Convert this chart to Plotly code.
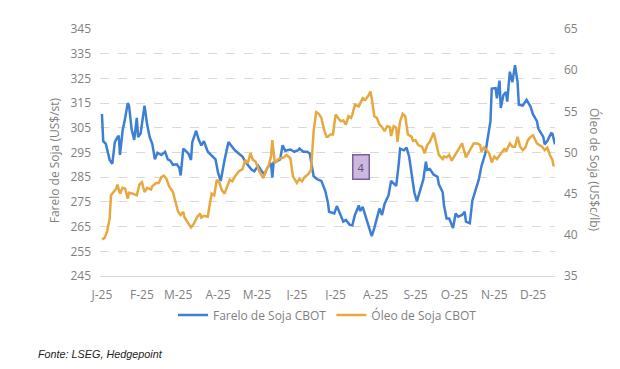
import plotly.graph_objects as go

# ---------------- data ----------------
meal_dates = [
    "2025-01-01", "2025-01-02", "2025-01-04", "2025-01-07", "2025-01-09", "2025-01-11", "2025-01-13",
    "2025-01-14", "2025-01-15", "2025-01-17", "2025-01-19", "2025-01-21", "2025-01-22", "2025-01-24",
    "2025-01-26", "2025-01-28", "2025-01-29", "2025-01-31", "2025-02-03", "2025-02-05", "2025-02-07",
    "2025-02-09", "2025-02-11", "2025-02-13", "2025-02-16", "2025-02-19", "2025-02-21", "2025-02-23",
    "2025-02-25", "2025-02-28", "2025-03-02", "2025-03-03", "2025-03-05", "2025-03-09", "2025-03-11",
    "2025-03-12", "2025-03-15", "2025-03-17", "2025-03-19", "2025-03-21", "2025-03-24", "2025-03-28",
    "2025-03-30", "2025-04-01", "2025-04-03", "2025-04-06", "2025-04-09", "2025-04-12", "2025-04-14",
    "2025-04-17", "2025-04-20", "2025-04-22", "2025-04-25", "2025-04-27", "2025-04-29", "2025-05-02",
    "2025-05-04", "2025-05-07", "2025-05-09", "2025-05-12", "2025-05-13", "2025-05-14", "2025-05-16",
    "2025-05-19", "2025-05-21", "2025-05-23", "2025-05-27", "2025-05-30", "2025-06-02", "2025-06-03",
    "2025-06-06", "2025-06-09", "2025-06-11", "2025-06-14", "2025-06-17", "2025-06-20", "2025-06-23",
    "2025-06-25", "2025-06-26", "2025-06-30", "2025-07-02", "2025-07-05", "2025-07-07", "2025-07-09",
    "2025-07-12", "2025-07-14", "2025-07-16", "2025-07-19", "2025-07-20", "2025-07-22", "2025-07-24",
    "2025-07-27", "2025-07-29", "2025-07-31", "2025-08-02", "2025-08-04", "2025-08-06", "2025-08-08",
    "2025-08-11", "2025-08-13", "2025-08-15", "2025-08-17", "2025-08-19", "2025-08-20", "2025-08-23",
    "2025-08-25", "2025-08-27", "2025-08-29", "2025-08-31", "2025-09-02", "2025-09-05", "2025-09-07",
    "2025-09-09", "2025-09-10", "2025-09-12", "2025-09-15", "2025-09-18", "2025-09-19", "2025-09-22",
    "2025-09-23", "2025-09-25", "2025-09-27", "2025-09-29", "2025-09-30", "2025-10-02", "2025-10-04",
    "2025-10-07", "2025-10-09", "2025-10-10", "2025-10-13", "2025-10-15", "2025-10-17", "2025-10-20",
    "2025-10-22", "2025-10-25", "2025-10-27", "2025-10-29", "2025-10-30", "2025-11-02", "2025-11-03",
    "2025-11-05", "2025-11-06", "2025-11-08", "2025-11-10", "2025-11-11", "2025-11-13", "2025-11-15",
    "2025-11-17", "2025-11-19", "2025-11-20", "2025-11-23", "2025-11-26", "2025-11-29", "2025-12-01",
    "2025-12-04", "2025-12-05", "2025-12-07", "2025-12-09", "2025-12-10", "2025-12-12", "2025-12-15",
    "2025-12-16", "2025-12-18",
]
meal_values = [
    310.6, 299.6, 298.5, 292.0, 290.4, 299.2, 301.2,
    301.8, 294.0, 303.8, 309.0, 315.0, 314.0, 304.4,
    300.1, 309.0, 301.2, 302.8, 314.0, 306.4, 301.2,
    298.5, 292.2, 294.9, 294.0, 295.3, 292.2, 291.7,
    290.0, 290.2, 288.7, 285.7, 296.6, 294.6, 292.0,
    299.2, 303.8, 300.1, 297.9, 299.6, 295.3, 293.0,
    292.2, 286.7, 283.5, 292.0, 299.2, 297.2, 295.9,
    294.6, 293.3, 291.3, 289.4, 288.0, 287.4, 289.6,
    288.0, 286.0, 288.7, 290.7, 284.8, 291.0, 291.3,
    292.2, 297.9, 295.7, 296.2, 295.3, 295.9, 296.6,
    295.3, 295.3, 294.6, 285.4, 284.1, 283.5, 279.5,
    274.9, 271.0, 270.3, 273.3, 269.7, 267.0, 267.7,
    265.7, 265.5, 269.7, 273.6, 271.3, 273.0, 269.7,
    265.1, 261.1, 264.4, 269.0, 272.3, 269.7, 274.3,
    277.6, 283.5, 282.5, 281.5, 290.7, 296.6, 295.9,
    297.0, 293.3, 285.4, 278.9, 275.2, 280.2, 284.1,
    291.3, 288.0, 288.3, 286.0, 285.2, 282.1, 278.9,
    273.6, 268.3, 268.3, 265.7, 264.4, 270.3, 269.0,
    269.7, 271.0, 267.0, 266.4, 275.6, 278.9, 284.1,
    289.4, 294.6, 301.2, 307.7, 320.9, 321.1, 316.9,
    324.1, 313.0, 318.2, 319.5, 315.6, 327.7, 323.5,
    330.3, 323.5, 314.3, 314.0, 316.3, 313.6, 310.4,
    307.7, 304.8, 303.2, 301.2, 298.3, 299.6, 302.8,
    302.6, 298.3,
]

oil_dates = [
    "2025-01-01", "2025-01-03", "2025-01-05", "2025-01-07", "2025-01-08", "2025-01-10", "2025-01-12",
    "2025-01-13", "2025-01-15", "2025-01-17", "2025-01-19", "2025-01-21", "2025-01-22", "2025-01-25",
    "2025-01-28", "2025-01-30", "2025-02-01", "2025-02-03", "2025-02-05", "2025-02-08", "2025-02-09",
    "2025-02-12", "2025-02-14", "2025-02-16", "2025-02-18", "2025-02-20", "2025-02-22", "2025-02-25",
    "2025-02-27", "2025-03-01", "2025-03-03", "2025-03-05", "2025-03-06", "2025-03-09", "2025-03-11",
    "2025-03-13", "2025-03-16", "2025-03-18", "2025-03-19", "2025-03-21", "2025-03-24", "2025-03-25",
    "2025-03-27", "2025-03-29", "2025-03-31", "2025-04-02", "2025-04-04", "2025-04-06", "2025-04-08",
    "2025-04-10", "2025-04-12", "2025-04-14", "2025-04-17", "2025-04-20", "2025-04-22", "2025-04-24",
    "2025-04-26", "2025-04-28", "2025-04-30", "2025-05-02", "2025-05-03", "2025-05-06", "2025-05-08",
    "2025-05-10", "2025-05-12", "2025-05-13", "2025-05-15", "2025-05-17", "2025-05-19", "2025-05-22",
    "2025-05-24", "2025-05-27", "2025-05-29", "2025-06-01", "2025-06-03", "2025-06-05", "2025-06-07",
    "2025-06-10", "2025-06-12", "2025-06-14", "2025-06-16", "2025-06-18", "2025-06-20", "2025-06-22",
    "2025-06-24", "2025-06-25", "2025-06-27", "2025-06-29", "2025-07-01", "2025-07-03", "2025-07-05",
    "2025-07-07", "2025-07-09", "2025-07-11", "2025-07-13", "2025-07-14", "2025-07-16", "2025-07-19",
    "2025-07-20", "2025-07-22", "2025-07-24", "2025-07-26", "2025-07-28", "2025-07-29", "2025-07-31",
    "2025-08-02", "2025-08-04", "2025-08-06", "2025-08-08", "2025-08-10", "2025-08-12", "2025-08-13",
    "2025-08-15", "2025-08-17", "2025-08-18", "2025-08-20", "2025-08-22", "2025-08-24", "2025-08-26",
    "2025-08-29", "2025-08-30", "2025-09-01", "2025-09-03", "2025-09-06", "2025-09-08", "2025-09-10",
    "2025-09-12", "2025-09-15", "2025-09-17", "2025-09-19", "2025-09-22", "2025-09-23", "2025-09-25",
    "2025-09-27", "2025-09-29", "2025-10-01", "2025-10-04", "2025-10-05", "2025-10-07", "2025-10-10",
    "2025-10-12", "2025-10-14", "2025-10-16", "2025-10-19", "2025-10-21", "2025-10-22", "2025-10-24",
    "2025-10-26", "2025-10-28", "2025-10-30", "2025-11-01", "2025-11-03", "2025-11-05", "2025-11-07",
    "2025-11-09", "2025-11-10", "2025-11-13", "2025-11-15", "2025-11-17", "2025-11-19", "2025-11-21",
    "2025-11-23", "2025-11-25", "2025-11-27", "2025-11-29", "2025-12-01", "2025-12-03", "2025-12-04",
    "2025-12-06", "2025-12-08", "2025-12-10", "2025-12-12", "2025-12-14", "2025-12-16", "2025-12-17",
]
oil_values = [
    39.45, 39.6, 40.4, 42.0, 44.8, 45.2, 45.6,
    46.1, 45.0, 45.7, 45.6, 44.4, 45.1, 45.0,
    44.8, 46.1, 46.4, 45.2, 45.7, 45.5, 45.9,
    46.3, 46.3, 47.0, 47.2, 46.8, 45.9, 45.2,
    43.8, 42.8, 42.4, 42.8, 42.1, 41.4, 40.9,
    41.3, 42.2, 42.6, 42.1, 42.3, 42.2, 43.2,
    45.0, 44.8, 46.7, 46.3, 45.4, 45.0, 45.9,
    46.7, 46.5, 47.1, 47.7, 48.0, 49.1, 48.7,
    49.9, 49.1, 48.9, 48.1, 47.7, 46.9, 47.8,
    48.3, 49.5, 51.5, 48.7, 49.1, 49.3, 49.4,
    49.7, 49.3, 47.1, 46.3, 46.8, 46.5, 47.0,
    47.4, 47.9, 52.6, 54.9, 54.7, 54.2, 52.8,
    51.9, 51.9, 52.2, 52.2, 54.6, 54.2, 53.8,
    53.9, 53.4, 54.4, 54.2, 54.6, 55.8, 55.6,
    55.9, 56.6, 56.4, 56.8, 57.4, 56.6, 54.4,
    54.2, 53.4, 53.1, 52.6, 53.2, 53.1, 52.0,
    53.2, 53.0, 51.3, 53.8, 54.7, 54.4, 52.2,
    51.9, 51.4, 51.5, 50.9, 50.7, 49.9, 50.9,
    51.3, 52.4, 51.1, 49.7, 49.2, 49.5, 49.4,
    49.7, 49.0, 49.5, 50.3, 50.5, 51.1, 49.4,
    50.0, 50.5, 51.1, 51.1, 50.9, 50.1, 50.6,
    50.3, 49.9, 48.8, 49.5, 49.2, 49.6, 50.1,
    50.5, 50.1, 51.1, 50.7, 50.7, 51.9, 50.7,
    50.3, 50.6, 51.5, 51.9, 52.1, 51.3, 51.1,
    50.9, 50.7, 50.3, 50.6, 49.7, 49.1, 48.3,
]

month_ticks = [
    "2025-01-01", "2025-02-01", "2025-03-01", "2025-04-01", "2025-05-01", "2025-06-01",
    "2025-07-01", "2025-08-01", "2025-09-01", "2025-10-01", "2025-11-01", "2025-12-01",
]
month_labels = ["J-25", "F-25", "M-25", "A-25", "M-25", "J-25",
                "J-25", "A-25", "S-25", "O-25", "N-25", "D-25"]

series_names = ["Farelo de Soja CBOT", "Óleo de Soja CBOT"]
left_title = "Farelo de Soja (US$/st)"
right_title = "Óleo de Soja (US$c/lb)"
source_text = "Fonte: LSEG, Hedgepoint"
badge_text = "4"

# ---------------- styling ----------------
FONT = "Open Sans, Lato, sans-serif"
GREY = "#7f7f7f"
BLUE = "#3D7FD3"
ORANGE = "#E8A840"

# page body has an 8px margin, so the figure is 8px smaller and margins shifted
PLOT_L, PLOT_R, PLOT_T, PLOT_B = 100, 555, 22, 276   # target plot box in window pixels
OFF = 8
W, H = 620 - OFF, 369 - OFF


def px(xw):  # window x pixel -> paper x
    return (xw - PLOT_L) / (PLOT_R - PLOT_L)


def py(yw):  # window y pixel -> paper y
    return (PLOT_B - yw) / (PLOT_B - PLOT_T)


fig = go.Figure()
fig.add_trace(go.Scatter(x=meal_dates, y=meal_values, name=series_names[0],
                         mode="lines", line=dict(color=BLUE, width=2.5), yaxis="y"))
fig.add_trace(go.Scatter(x=oil_dates, y=oil_values, name=series_names[1],
                         mode="lines", line=dict(color=ORANGE, width=2.5), yaxis="y2"))

fig.update_layout(
    width=W, height=H,
    margin=dict(l=PLOT_L - OFF, r=W - (PLOT_R - OFF), t=PLOT_T - OFF, b=H - (PLOT_B - OFF)),
    paper_bgcolor="white", plot_bgcolor="white",
    font=dict(family=FONT, size=12, color=GREY),
    showlegend=True,
    legend=dict(orientation="h", x=0.5, xanchor="center", y=py(316), yanchor="middle",
                font=dict(size=12, color=GREY), itemwidth=30, tracegroupgap=0),
    xaxis=dict(
        type="date",
        range=["2024-12-30 12:00", "2025-12-18"],
        tickmode="array", tickvals=month_ticks, ticktext=month_labels,
        showgrid=False, zeroline=False,
        showline=True, linecolor="#d9d9d9", linewidth=1,
        ticks="", ticklabelstandoff=8,
        tickfont=dict(size=12, color=GREY),
    ),
    yaxis=dict(
        range=[245, 345], dtick=10, tick0=245,
        showgrid=True, gridcolor="#d9d9d9", griddash="dash", gridwidth=1,
        zeroline=False, showline=False, ticks="", ticklabelstandoff=8,
        tickfont=dict(size=12, color=GREY),
    ),
    yaxis2=dict(
        range=[35, 65], dtick=5, tick0=35,
        overlaying="y", side="right",
        showgrid=False, zeroline=False, showline=False, ticks="", ticklabelstandoff=8,
        tickfont=dict(size=12, color=GREY),
    ),
    hovermode=False,
)

fig.add_annotation(text=left_title, xref="paper", yref="paper",
                   x=px(54), y=py(157), xanchor="center", yanchor="middle",
                   textangle=-90, showarrow=False, font=dict(size=12, color=GREY, family=FONT))
fig.add_annotation(text=right_title, xref="paper", yref="paper",
                   x=px(595), y=py(166), xanchor="center", yanchor="middle",
                   textangle=90, showarrow=False, font=dict(size=12, color=GREY, family=FONT))
fig.add_annotation(text="<i>" + source_text + "</i>", xref="paper", yref="paper",
                   x=px(36), y=py(356), xanchor="left", yanchor="middle",
                   showarrow=False, font=dict(size=10.8, color="#222222", family="Liberation Sans, Arial, sans-serif"))
fig.add_annotation(text=badge_text, xref="paper", yref="paper",
                   x=px(361), y=py(163.5), xanchor="center", yanchor="middle",
                   showarrow=False, bgcolor="#cdb8df", bordercolor="#7d5f9c", borderwidth=1.5,
                   borderpad=4, font=dict(size=11, color="#5e4a7e", family=FONT))

fig.write_html("out.html")
